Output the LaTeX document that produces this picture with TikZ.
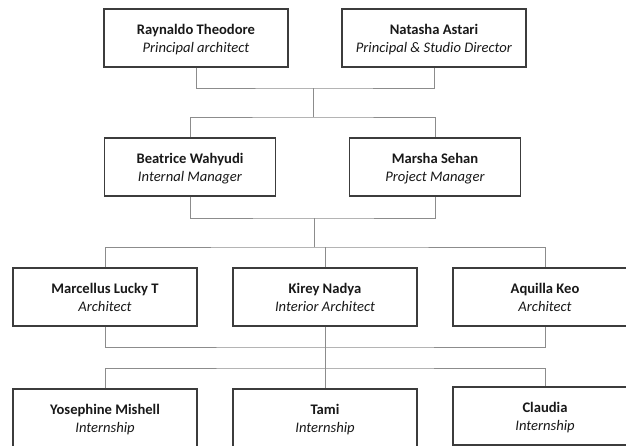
\documentclass[tikz,border=0pt]{standalone}
\usepackage{fontspec}
\setmainfont{Carlito}
\usepackage{tikz}
\usepackage{xcolor}

\definecolor{boxgray}{HTML}{3C3C3C}
\definecolor{linkgray}{HTML}{8C8C8C}

\begin{document}
\begin{tikzpicture}[x=1pt,y=-1pt,
                    person/.style={draw=boxgray, line width=1.1pt, fill=white,
                                   minimum width=184pt, minimum height=58pt,
                                   inner sep=0pt, align=center, text=black!90,
                                   text depth=0pt,
                                   font=\fontsize{14.6}{18}\selectfont},
                    manager/.style={person, minimum width=171pt},
                    link/.style={draw=linkgray, line width=0.8pt}]
                    \useasboundingbox (0,0) rectangle (626,445);
                    % principals
                    \node[person] (rt) at (196,38) {\textbf{Raynaldo Theodore}\\\textit{Principal architect}};
                    \node[person] (na) at (434,38) {\textbf{Natasha Astari}\\\textit{Principal \& Studio Director}};
                    % managers
                    \node[manager] (bw) at (190,167) {\textbf{Beatrice Wahyudi}\\\textit{Internal Manager}};
                    \node[manager] (ms) at (435,167) {\textbf{Marsha Sehan}\\\textit{Project Manager}};
                    % architects
                    \node[person] (ml) at (105,297) {\textbf{Marcellus Lucky T}\\\textit{Architect}};
                    \node[person] (kn) at (325,297) {\textbf{Kirey Nadya}\\\textit{Interior Architect}};
                    \node[person] (ak) at (545,297) {\textbf{Aquilla Keo}\\\textit{Architect}};
                    % interns
                    \node[person] (ym) at (105,418) {\textbf{Yosephine Mishell}\\\textit{Internship}};
                    \node[person] (tm) at (325,418) {\textbf{Tami}\\\textit{Internship}};
                    \node[person] (cl) at (545,416) {\textbf{Claudia}\\\textit{Internship}};

                    \coordinate (j1) at (313,88);
                    \coordinate (j2) at (313,117);
                    \coordinate (j3) at (314,218);
                    \coordinate (j4) at (314,247);
                    \coordinate (j5) at (325,347);
                    \coordinate (j6) at (325,368);

                    \draw[link] (rt.south) |- (j1) -| (na.south);
                    \draw[link] (j1) -- (j2);
                    \draw[link] (bw.north) |- (j2) -| (ms.north);

                    \draw[link] (bw.south) |- (j3) -| (ms.south);
                    \draw[link] (j3) -- (j4);
                    \draw[link] (ml.north) |- (j4) -| (ak.north);
                    \draw[link] (kn.north) -- (kn.north |- j4);

                    \draw[link] (ml.south) |- (j5) -| (ak.south);
                    \draw[link] (kn.south) -- (tm.north);
                    \draw[link] (ym.north) |- (j6) -| (cl.north);
\end{tikzpicture}
\end{document}
